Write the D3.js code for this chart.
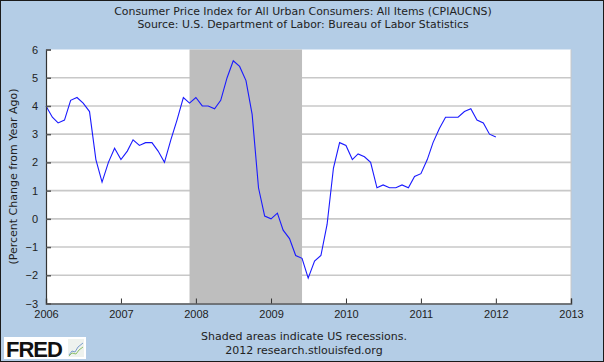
<!DOCTYPE html>
<html><head><meta charset="utf-8">
<script src="https://cdn.jsdelivr.net/npm/d3@7/dist/d3.min.js"></script>
<style>body{margin:0;background:#fff}svg{display:block;font-family:"DejaVu Sans",sans-serif}</style>
</head><body><svg id="c" width="604" height="362"></svg>
<script>
const titleLines = ["Consumer Price Index for All Urban Consumers: All Items (CPIAUCNS)",
  "Source: U.S. Department of Labor: Bureau of Labor Statistics"];
const yLabel = "(Percent Change from Year Ago)";
const footLines = ["Shaded areas indicate US recessions.", "2012 research.stlouisfed.org"];
const startMonth = "2006-01";
const values = [
  4.0,3.6,3.4,3.5,4.2,4.3,4.1,3.8,2.1,1.3,2.0,2.5,
  2.1,2.4,2.8,2.6,2.7,2.7,2.4,2.0,2.8,3.5,4.3,4.1,
  4.3,4.0,4.0,3.9,4.2,5.0,5.6,5.4,4.9,3.7,1.1,0.1,
  0.0,0.2,-0.4,-0.7,-1.3,-1.4,-2.1,-1.5,-1.3,-0.2,1.8,2.7,
  2.6,2.1,2.3,2.2,2.0,1.1,1.2,1.1,1.1,1.2,1.1,1.5,
  1.6,2.1,2.7,3.2,3.6,3.6,3.6,3.8,3.9,3.5,3.4,3.0,
  2.9];
const recessions = [["2007-12-01","2009-06-01"]];
const yTicks = [-3,-2,-1,0,1,2,3,4,5,6];
const xTickYears = [2006,2007,2008,2009,2010,2011,2012,2013];

const svg = d3.select("#c");
const W = 604, H = 362;
const m = {l:46, r:571, t:49.5, b:303.5};
svg.append("rect").attr("x",0.5).attr("y",0.5).attr("width",W-1).attr("height",H-1)
  .attr("fill","#b4cde6").attr("stroke","#1a1a1a").attr("stroke-width",1);

const parse = d3.utcParse("%Y-%m-%d");
const t0 = d3.utcParse("%Y-%m")(startMonth);
const data = values.map((v,i)=>({date:d3.utcMonth.offset(t0,i), v}));

const x = d3.scaleUtc().domain([new Date(Date.UTC(2006,0,1)), new Date(Date.UTC(2013,0,1))]).range([m.l,m.r]);
const y = d3.scaleLinear().domain([-3,6]).range([m.b,m.t]);

svg.append("rect").attr("x",m.l).attr("y",m.t).attr("width",m.r-m.l).attr("height",m.b-m.t).attr("fill","#fff");

// gridlines
svg.append("g").selectAll("line").data(yTicks.filter(d=>d>-3&&d<6)).join("line")
  .attr("x1",m.l).attr("x2",m.r).attr("y1",d=>y(d)).attr("y2",d=>y(d))
  .attr("stroke","#c8c8c8").attr("stroke-width",1.6);

// recessions
svg.append("g").selectAll("rect").data(recessions).join("rect")
  .attr("x",d=>x(parse(d[0]))).attr("width",d=>x(parse(d[1]))-x(parse(d[0])))
  .attr("y",m.t).attr("height",m.b-m.t).attr("fill","#bebebe");

// right border
svg.append("line").attr("x1",m.r).attr("x2",m.r).attr("y1",m.t).attr("y2",m.b)
  .attr("stroke","#c8c8c8").attr("stroke-width",1);

// line
svg.append("path").datum(data)
  .attr("d", d3.line().x(d=>x(d.date)).y(d=>y(d.v)))
  .attr("fill","none").attr("stroke","#1a1aff").attr("stroke-width",1.1);

// y axis
const ya = d3.axisLeft(y).tickValues(yTicks).tickSize(-5).tickPadding(8).tickFormat(d3.format("d"));
const gy = svg.append("g").attr("transform",`translate(${m.l},0)`).call(ya);
gy.select(".domain").attr("stroke","#333").attr("stroke-width",1.2);
gy.selectAll(".tick line").attr("stroke","#555").attr("stroke-width",1.5);
gy.selectAll("text").attr("font-size",11).attr("fill","#222").attr("x",-8);
gy.selectAll(".tick line").attr("x2",5);

// x axis
const xa = d3.axisBottom(x).tickValues(xTickYears.map(yr=>new Date(Date.UTC(yr,0,1))))
  .tickSize(-5).tickPadding(7).tickFormat(d3.utcFormat("%Y"));
const gx = svg.append("g").attr("transform",`translate(0,${m.b})`).call(xa);
gx.select(".domain").attr("stroke","#555").attr("stroke-width",1.5);
gx.selectAll(".tick line").attr("stroke","#333").attr("stroke-width",1);
gx.selectAll("text").attr("font-size",11).attr("fill","#222");

// titles
svg.append("g").selectAll("text").data(titleLines).join("text")
  .attr("x",303).attr("y",(d,i)=>15+i*13).attr("text-anchor","middle")
  .attr("font-size",10.9).attr("fill","#222").text(d=>d);

svg.append("text").attr("transform",`translate(17,${(m.t+m.b)/2}) rotate(-90)`)
  .attr("text-anchor","middle").attr("font-size",11).attr("fill","#222").text(yLabel);

svg.append("g").selectAll("text").data(footLines).join("text")
  .attr("x",304).attr("y",(d,i)=>340+i*13.5).attr("text-anchor","middle")
  .attr("font-size",11).attr("fill","#222").text(d=>d);

// FRED logo
const lg = svg.append("g");
lg.append("rect").attr("x",4).attr("y",337).attr("width",82).attr("height",22).attr("fill","#fff");
lg.append("text").attr("x",6).attr("y",357).attr("font-size",22).attr("font-weight","bold")
  .attr("font-family","'Liberation Sans',Arial,sans-serif").attr("fill","#111").attr("letter-spacing",-1).text("FRED");
lg.append("rect").attr("x",68).attr("y",339).attr("width",16).attr("height",18).attr("fill","#eef2ee");
lg.append("polyline").attr("points","69,355 72,351 75,352 78,347 83,343").attr("fill","none").attr("stroke","#7a9ccc").attr("stroke-width",1);
lg.append("polyline").attr("points","69,356 72,353 76,354 79,350 83,347").attr("fill","none").attr("stroke","#8cc06a").attr("stroke-width",1);
</script></body></html>
